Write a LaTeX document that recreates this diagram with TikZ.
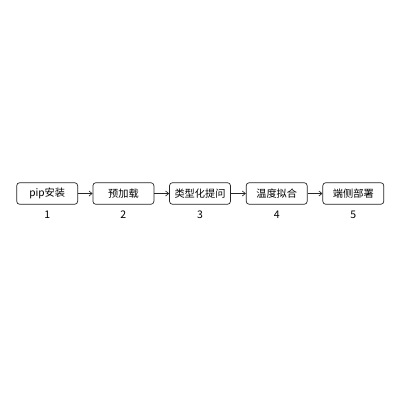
\documentclass[tikz,border=0pt]{standalone}
\usepackage{fontspec}
\setmainfont{Noto Sans CJK SC}
\usetikzlibrary{arrows.meta}
\begin{document}
\begin{tikzpicture}[x=1pt,y=-1pt,
  stepbox/.style={draw=black!85,line width=0.7pt,rounded corners=3pt,minimum width=61pt,minimum height=21.6pt,inner sep=0pt,font=\fontsize{10.2}{12}\selectfont},
  numlbl/.style={font=\fontsize{10.5}{12}\selectfont,inner sep=0pt},
  conn/.style={draw=black!85,line width=0.7pt,-{Straight Barb[length=3pt,width=5pt]}}]
\useasboundingbox[fill=white] (0,0) rectangle (400,400);
\node[stepbox] (s1) at (47.2,193.5) {pip安装};
\node[stepbox] (s2) at (123.4,193.5) {预加载};
\node[stepbox] (s3) at (200,193.5) {类型化提问};
\node[stepbox] (s4) at (276.7,193.5) {温度拟合};
\node[stepbox] (s5) at (353.3,193.5) {端侧部署};
\node[numlbl] (n1) at (47.2,214.5) {1};
\node[numlbl] (n2) at (123.4,214.5) {2};
\node[numlbl] (n3) at (200,214.5) {3};
\node[numlbl] (n4) at (276.7,214.5) {4};
\node[numlbl] (n5) at (353.3,214.5) {5};
\draw[conn] (s1) -- (s2);
\draw[conn] (s2) -- (s3);
\draw[conn] (s3) -- (s4);
\draw[conn] (s4) -- (s5);
\end{tikzpicture}
\end{document}
